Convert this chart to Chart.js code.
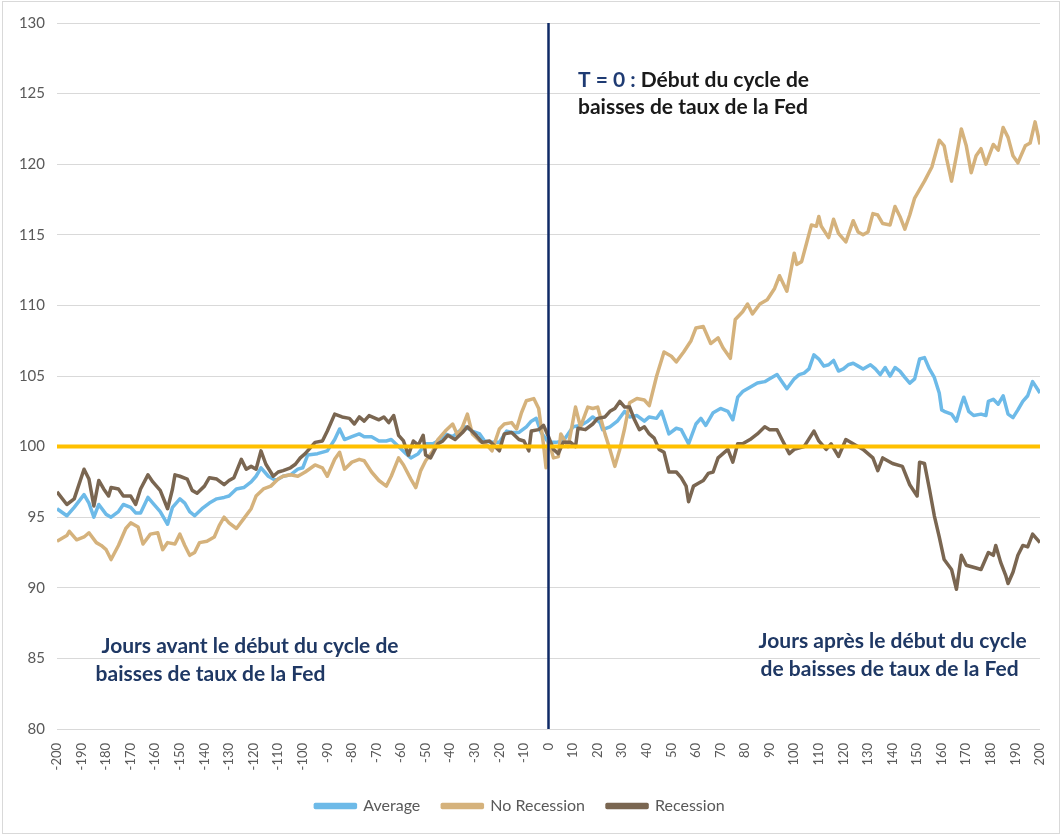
<!DOCTYPE html>
<html>
<head>
<meta charset="utf-8">
<script src="https://cdn.jsdelivr.net/npm/chart.js@4.4.0/dist/chart.umd.min.js"></script>
<style>
  html, body { margin: 0; padding: 0; background: #fff; }
  #wrap { width: 1062px; height: 836px; }
</style>
</head>
<body>
<div id="wrap"><canvas id="chart" width="1062" height="836"></canvas></div>
<script>
// jours autour du début du cycle (T = 0) et niveau de l'indice (base 100)
const averageDays = [
  -200, -196, -193, -189, -187, -185, -183, -180, -178, -175, -173, -170, -168, -166, -163, -161,
  -158, -155, -153, -150, -148, -146, -144, -141, -138, -135, -132, -130, -127, -124, -121, -119,
  -117, -114, -111, -108, -105, -102, -100, -98, -94, -90, -87, -85, -83, -80, -77, -75,
  -72, -69, -66, -64, -61, -58, -56, -53, -50, -47, -44, -42, -39, -37, -34, -31,
  -28, -26, -23, -20, -17, -15, -12, -9, -7, -5, -3, 0, 3, 6, 10, 13,
  16, 18, 21, 22, 25, 28, 31, 33, 36, 39, 41, 44, 46, 49, 52, 54,
  57, 60, 62, 64, 67, 70, 73, 75, 77, 79, 82, 85, 88, 90, 93, 95,
  97, 100, 102, 104, 106, 108, 110, 112, 114, 116, 118, 120, 122, 124, 126, 128,
  131, 133, 135, 137, 139, 141, 143, 145, 147, 149, 151, 153, 155, 157, 159, 160,
  161, 164, 166, 168, 169, 171, 173, 176, 178, 179, 181, 183, 185, 187, 189, 191,
  193, 195, 197, 200
];
const averageValues = [
  95.6, 95.1, 95.7, 96.6, 96.0, 95.0, 95.9, 95.2, 95.0, 95.4, 95.9, 95.7, 95.3, 95.3, 96.4, 96.0,
  95.4, 94.5, 95.7, 96.3, 96.0, 95.4, 95.1, 95.6, 96.0, 96.3, 96.4, 96.5, 97.0, 97.1, 97.5, 97.9,
  98.5, 97.9, 97.6, 97.9, 98.0, 98.4, 98.5, 99.4, 99.5, 99.7, 100.5, 101.25, 100.5, 100.7, 100.9, 100.7,
  100.7, 100.4, 100.4, 100.5, 100.0, 99.5, 99.2, 99.5, 100.2, 100.2, 100.5, 100.9, 100.7, 101.0, 101.4, 101.1,
  100.9, 100.4, 100.3, 100.3, 101.1, 101.0, 101.0, 101.4, 101.8, 102.0, 101.0, 100.3, 100.3, 100.4, 101.4, 101.5,
  101.8, 102.1, 101.7, 101.2, 101.4, 101.8, 102.5, 102.1, 102.2, 101.8, 102.1, 102.0, 102.5, 100.9, 101.3, 101.2,
  100.2, 101.6, 102.0, 101.5, 102.4, 102.7, 102.5, 101.9, 103.5, 103.9, 104.2, 104.5, 104.6, 104.8, 105.1, 104.6,
  104.1, 104.8, 105.1, 105.2, 105.5, 106.5, 106.2, 105.7, 105.8, 106.1, 105.35, 105.5, 105.8, 105.9, 105.7, 105.5,
  105.8, 105.5, 105.1, 105.6, 105.0, 105.6, 105.35, 104.9, 104.5, 104.8, 106.2, 106.3, 105.5, 104.9, 103.8, 102.6,
  102.5, 102.3, 101.8, 103.0, 103.5, 102.5, 102.2, 102.3, 102.2, 103.2, 103.35, 103.0, 103.6, 102.3, 102.05, 102.6,
  103.2, 103.6, 104.6, 103.8
];

const noRecessionDays = [
  -200, -196, -195, -192, -189, -187, -184, -182, -180, -178, -175, -172, -170, -167, -165, -162,
  -159, -157, -155, -152, -150, -148, -146, -144, -142, -139, -136, -134, -132, -130, -127, -124,
  -121, -119, -116, -113, -110, -108, -105, -102, -99, -95, -92, -90, -87, -85, -83, -80,
  -77, -75, -72, -69, -66, -64, -61, -59, -56, -54, -52, -50, -47, -45, -42, -39,
  -37, -35, -33, -31, -28, -25, -23, -20, -18, -15, -13, -11, -9, -6, -4, -2,
  -1, 0, 2, 4, 5, 8, 11, 13, 16, 18, 20, 23, 25, 27, 29, 31,
  33, 36, 39, 41, 44, 47, 50, 52, 55, 58, 60, 63, 66, 69, 71, 74,
  76, 79, 81, 83, 86, 89, 92, 94, 97, 100, 101, 103, 105, 107, 109, 110,
  111, 114, 116, 118, 121, 124, 126, 128, 130, 132, 134, 136, 139, 141, 143, 145,
  147, 149, 151, 153, 156, 159, 161, 162, 164, 166, 168, 170, 172, 174, 176, 178,
  181, 183, 185, 187, 189, 191, 194, 196, 198, 200
];
const noRecessionValues = [
  93.3, 93.7, 94.0, 93.4, 93.6, 93.9, 93.2, 93.0, 92.7, 92.0, 93.0, 94.2, 94.6, 94.3, 93.1, 93.8,
  93.9, 92.7, 93.2, 93.1, 93.8, 93.0, 92.3, 92.5, 93.2, 93.3, 93.6, 94.4, 95.0, 94.6, 94.2, 94.9,
  95.6, 96.5, 97.0, 97.2, 97.7, 97.9, 98.0, 97.9, 98.2, 98.7, 98.5, 97.9, 99.1, 99.6, 98.4, 98.9,
  99.1, 99.0, 98.2, 97.6, 97.2, 97.9, 99.2, 98.7, 97.7, 97.1, 98.3, 99.0, 99.7, 100.5, 101.1, 101.6,
  100.8, 101.4, 102.3, 100.9, 100.4, 100.1, 99.7, 101.25, 101.6, 101.7, 101.25, 102.4, 103.25, 103.4, 102.7, 100.1,
  98.5, 100.5, 99.2, 99.3, 100.9, 100.0, 102.8, 101.4, 102.8, 102.7, 102.8, 100.9, 99.8, 98.6, 99.8, 101.3,
  103.1, 103.4, 103.3, 102.9, 105.0, 106.7, 106.4, 106.0, 106.7, 107.5, 108.4, 108.5, 107.3, 107.7, 107.0, 106.25,
  109.0, 109.55, 110.1, 109.4, 110.1, 110.4, 111.2, 112.1, 111.0, 113.7, 112.9, 113.1, 114.4, 115.7, 115.6, 116.3,
  115.6, 114.8, 116.1, 115.1, 114.5, 116.0, 115.2, 115.0, 115.2, 116.5, 116.4, 115.8, 115.7, 117.0, 116.3, 115.4,
  116.4, 117.6, 118.2, 118.8, 119.8, 121.7, 121.3, 120.4, 118.8, 120.6, 122.5, 121.3, 119.4, 120.6, 121.1, 120.0,
  121.4, 121.0, 122.6, 121.9, 120.6, 120.1, 121.3, 121.5, 123.0, 121.4
];

const recessionDays = [
  -200, -196, -193, -189, -187, -185, -183, -181, -179, -178, -175, -173, -170, -168, -166, -163,
  -161, -158, -155, -153, -152, -150, -147, -145, -143, -140, -138, -135, -132, -130, -128, -125,
  -123, -121, -119, -117, -115, -112, -110, -108, -105, -103, -101, -99, -95, -92, -90, -87,
  -84, -81, -79, -77, -75, -73, -69, -67, -65, -63, -61, -59, -57, -55, -53, -51,
  -50, -48, -45, -43, -41, -38, -35, -33, -30, -27, -24, -20, -18, -15, -12, -10,
  -8, -7, -4, -2, 0, 2, 4, 6, 9, 11, 12, 15, 18, 20, 23, 25,
  27, 29, 31, 33, 35, 37, 39, 41, 43, 45, 47, 49, 52, 54, 56, 57,
  59, 61, 63, 65, 67, 69, 71, 73, 75, 77, 79, 82, 85, 88, 90, 93,
  95, 98, 100, 104, 108, 110, 113, 115, 118, 121, 125, 128, 132, 134, 136, 140,
  144, 147, 150, 151, 153, 155, 157, 159, 161, 164, 166, 168, 170, 174, 176, 179,
  181, 182, 184, 186, 187, 189, 191, 193, 195, 197, 200
];
const recessionValues = [
  96.8, 95.9, 96.3, 98.4, 97.7, 95.8, 97.6, 97.0, 96.5, 97.1, 97.0, 96.5, 96.5, 95.9, 97.0, 98.0,
  97.5, 96.9, 95.6, 97.0, 98.0, 97.9, 97.7, 96.9, 96.7, 97.2, 97.8, 97.7, 97.3, 97.6, 97.8, 99.1,
  98.4, 98.6, 98.4, 99.7, 98.75, 97.9, 98.2, 98.3, 98.5, 98.75, 99.2, 99.5, 100.3, 100.4, 101.1, 102.3,
  102.1, 102.0, 101.6, 102.1, 101.8, 102.2, 101.9, 102.1, 101.7, 102.2, 100.8, 100.4, 99.4, 100.4, 100.1, 100.8,
  99.4, 99.2, 100.2, 100.4, 100.8, 100.5, 101.0, 101.4, 100.9, 100.3, 100.4, 99.7, 100.9, 101.0, 100.5, 100.4,
  99.7, 101.1, 101.2, 101.5, 100.7, 99.8, 99.5, 100.3, 100.3, 100.0, 101.3, 101.2, 101.6, 102.0, 102.1, 102.5,
  102.7, 103.2, 102.8, 102.8, 101.9, 101.2, 101.4, 100.9, 100.6, 99.8, 99.6, 98.2, 98.2, 97.8, 97.2, 96.1,
  97.2, 97.4, 97.6, 98.1, 98.2, 99.2, 99.5, 99.8, 98.9, 100.2, 100.2, 100.5, 100.9, 101.4, 101.2, 101.2,
  100.5, 99.5, 99.8, 100.0, 101.1, 100.4, 99.8, 100.2, 99.3, 100.5, 100.1, 99.8, 99.2, 98.3, 99.2, 98.8,
  98.6, 97.3, 96.5, 98.9, 98.8, 97.0, 95.1, 93.6, 92.0, 91.3, 89.9, 92.3, 91.6, 91.4, 91.3, 92.5,
  92.3, 93.0, 91.8, 90.9, 90.3, 91.1, 92.3, 93.0, 92.9, 93.8, 93.2
];

// ligne de référence à 100 et repère T = 0
const baseDays = [-200, 200];
const baseLevel = [100, 100];
const startDays = [0, 0];
const startRange = [80, 130];

const yTicks = { min: 80, max: 130, step: 5 };
const xTicks = { min: -200, max: 200, step: 10 };

const toPoints = (xs, ys) => xs.map((x, i) => ({ x: x, y: ys[i] }));

const notesPlugin = {
    id: 'notes',
    afterDatasetsDraw(chart) {
        const ctx = chart.ctx;
        const sx = chart.scales.x;
        const sy = chart.scales.y;
        ctx.save();
        ctx.textBaseline = 'middle';
        ctx.font = 'bold 21px Lato';

        // T = 0 : ...
        let px = sx.getPixelForValue(12);
        ctx.fillStyle = '#1F3B73';
        ctx.fillText('T = 0 :', px, sy.getPixelForValue(125.95));
        px += ctx.measureText('T = 0 : ').width;
        ctx.fillStyle = '#1a1a1a';
        ctx.fillText('Début du cycle de', px, sy.getPixelForValue(125.95));
        ctx.fillText('baisses de taux de la Fed', sx.getPixelForValue(12), sy.getPixelForValue(124.0));

        ctx.fillStyle = '#1F3864';
        ctx.fillText('Jours avant le début du cycle de', sx.getPixelForValue(-181.9), sy.getPixelForValue(85.85));
        ctx.fillText('baisses de taux de la Fed', sx.getPixelForValue(-184.3), sy.getPixelForValue(83.9));
        ctx.fillText('Jours après le début du cycle', sx.getPixelForValue(85.5), sy.getPixelForValue(86.2));
        ctx.fillText('de baisses de taux de la Fed', sx.getPixelForValue(86.3), sy.getPixelForValue(84.25));
        ctx.restore();
    },
    afterDraw(chart) {
        const ctx = chart.ctx;
        ctx.save();
        ctx.strokeStyle = '#d9d9d9';
        ctx.lineWidth = 1;
        ctx.strokeRect(2.5, 1.5, chart.width - 5, chart.height - 4);
        ctx.restore();
    }
};

const ctx = document.getElementById('chart').getContext('2d');
const chart = new Chart(ctx, {
    type: 'line',
    data: {
        datasets: [{
            label: 'Average',
            data: toPoints(averageDays, averageValues),
            borderColor: '#6DBAE8',
            backgroundColor: '#6DBAE8',
            borderWidth: 3.5,
            order: 4
        }, {
            label: 'No Recession',
            data: toPoints(noRecessionDays, noRecessionValues),
            borderColor: '#D5B27C',
            backgroundColor: '#D5B27C',
            borderWidth: 3.5,
            order: 3
        }, {
            label: 'Recession',
            data: toPoints(recessionDays, recessionValues),
            borderColor: '#7A6651',
            backgroundColor: '#7A6651',
            borderWidth: 3.5,
            order: 2
        }, {
            label: 'Base 100',
            data: toPoints(baseDays, baseLevel),
            borderColor: '#FFC000',
            borderWidth: 4,
            order: 1
        }, {
            label: 'T = 0',
            data: toPoints(startDays, startRange),
            borderColor: '#0F2A66',
            borderWidth: 2.5,
            order: 0
        }]
    },
    options: {
        responsive: false,
        animation: false,
        events: [],
        elements: {
            point: { radius: 0 },
            line: { tension: 0, borderCapStyle: 'butt', borderJoinStyle: 'round' }
        },
        layout: {
            padding: { left: 0, right: 22, top: 23, bottom: 12 }
        },
        plugins: {
            legend: {
                position: 'bottom',
                labels: {
                    filter: item => item.datasetIndex < 3,
                    sort: (a, b) => a.datasetIndex - b.datasetIndex,
                    boxWidth: 40,
                    boxHeight: 3,
                    padding: 22,
                    color: '#595959',
                    font: { family: 'Lato', size: 16 }
                }
            },
            tooltip: { enabled: false }
        },
        scales: {
            x: {
                type: 'linear',
                min: xTicks.min,
                max: xTicks.max,
                grid: { display: false },
                border: { display: false },
                ticks: {
                    stepSize: xTicks.step,
                    autoSkip: false,
                    minRotation: 90,
                    maxRotation: 90,
                    padding: 6,
                    color: '#595959',
                    font: { family: 'Lato', size: 13 }
                },
                afterFit: function(scale) {
                    scale.height = 47;
                }
            },
            y: {
                min: yTicks.min,
                max: yTicks.max,
                grid: { color: '#d9d9d9', lineWidth: 1, drawTicks: false },
                border: { display: false },
                ticks: {
                    stepSize: yTicks.step,
                    padding: 12,
                    color: '#595959',
                    font: { family: 'Lato', size: 15 }
                },
                afterFit: function(scale) {
                    scale.width = 57;
                }
            }
        }
    },
    plugins: [notesPlugin]
});
</script>
</body>
</html>
